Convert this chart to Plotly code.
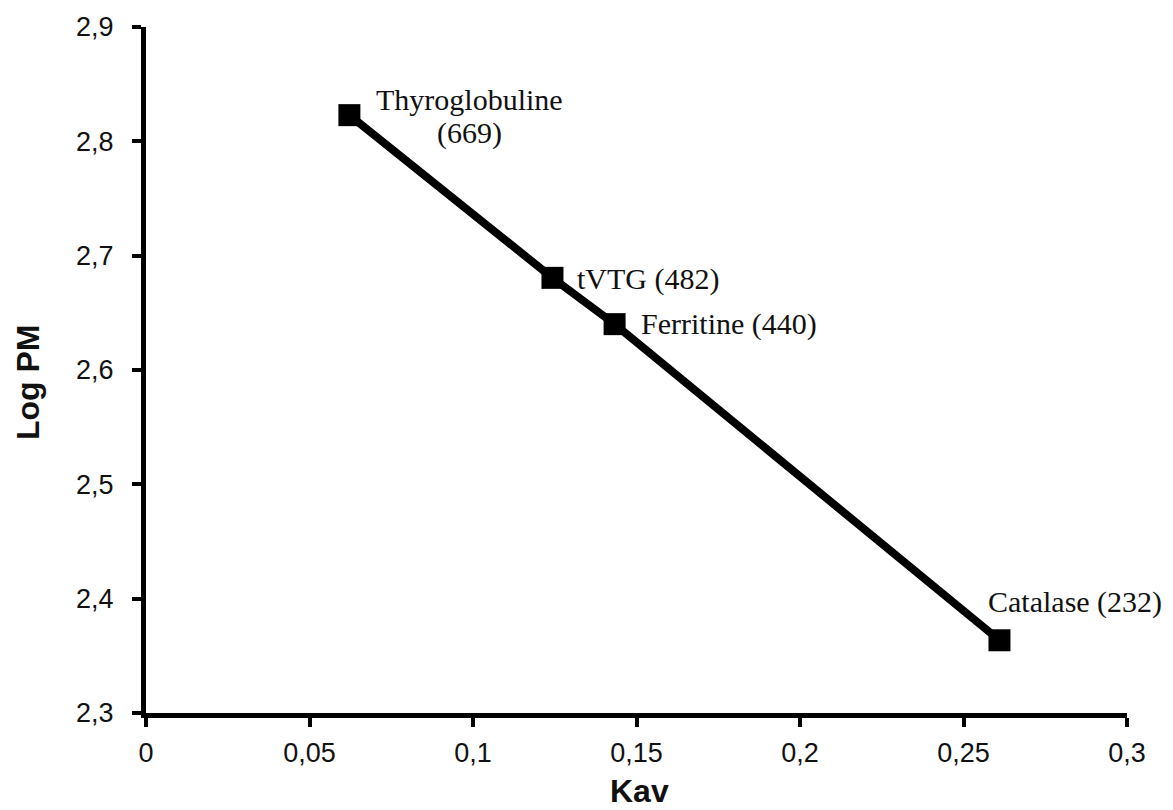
import plotly.graph_objects as go

# Data
names = ["Thyroglobuline", "tVTG", "Ferritine", "Catalase"]
mw = [669, 482, 440, 232]
kav = [0.0622, 0.1243, 0.1433, 0.2610]
log_pm = [2.8229, 2.6806, 2.6401, 2.3636]

x_ticks = [0, 0.05, 0.1, 0.15, 0.2, 0.25, 0.3]
x_ticktext = ["0", "0,05", "0,1", "0,15", "0,2", "0,25", "0,3"]
y_ticks = [2.3, 2.4, 2.5, 2.6, 2.7, 2.8, 2.9]
y_ticktext = ["2,3", "2,4", "2,5", "2,6", "2,7", "2,8", "2,9"]

fig = go.Figure()
fig.add_trace(go.Scatter(
    x=kav, y=log_pm, mode="lines+markers",
    line=dict(color="black", width=8),
    marker=dict(symbol="square", size=22, color="black"),
    showlegend=False, hoverinfo="skip",
))

label_font = dict(family="Liberation Serif, Times New Roman, serif", size=30, color="#111")
# first label split into two lines placed separately
fig.add_annotation(x=kav[0], y=log_pm[0], text=names[0], showarrow=False,
                   xanchor="center", yanchor="middle", xshift=120, yshift=16, font=label_font)
fig.add_annotation(x=kav[0], y=log_pm[0], text=f"({mw[0]})", showarrow=False,
                   xanchor="center", yanchor="middle", xshift=120, yshift=-18, font=label_font)
placements = {1: (23, -1), 2: (24, 0), 3: (-13, 38)}
for i in (1, 2, 3):
    xs, ys = placements[i]
    fig.add_annotation(x=kav[i], y=log_pm[i], text=f"{names[i]} ({mw[i]})",
                       showarrow=False, xanchor="left", yanchor="middle",
                       xshift=xs, yshift=ys, font=label_font)

title_font = dict(family="Liberation Sans, Arial, sans-serif", size=32, color="#111")
fig.add_annotation(x=0.5, y=0, xref="paper", yref="paper", text="<b>Kav</b>",
                   showarrow=False, xanchor="center", yanchor="middle",
                   yshift=-78, xshift=3, font=title_font)
fig.add_annotation(x=0, y=0.5, xref="paper", yref="paper", text="<b>Log PM</b>",
                   showarrow=False, xanchor="center", yanchor="middle",
                   textangle=-90, xshift=-118, yshift=-12, font=title_font)

tick_font = dict(family="Liberation Sans, Arial, sans-serif", size=27, color="#111")
axis_common = dict(showgrid=False, zeroline=False, showline=True, linecolor="black",
                   linewidth=5, ticks="outside", ticklen=9, tickwidth=4,
                   tickcolor="black", tickfont=tick_font)

fig.update_xaxes(range=[0, 0.3], tickvals=x_ticks, ticktext=x_ticktext,
                 ticklabelstandoff=3, **axis_common)
fig.update_yaxes(range=[2.3, 2.9], tickvals=y_ticks, ticktext=y_ticktext,
                 ticklabelstandoff=13, **axis_common)

fig.update_layout(
    width=1173, height=810,
    margin=dict(l=146, r=46, t=24, b=97),
    paper_bgcolor="white", plot_bgcolor="white",
)

fig.write_html("out.html", config={"displayModeBar": False},
               post_script="document.body.style.margin='0';document.body.style.overflow='hidden';")
